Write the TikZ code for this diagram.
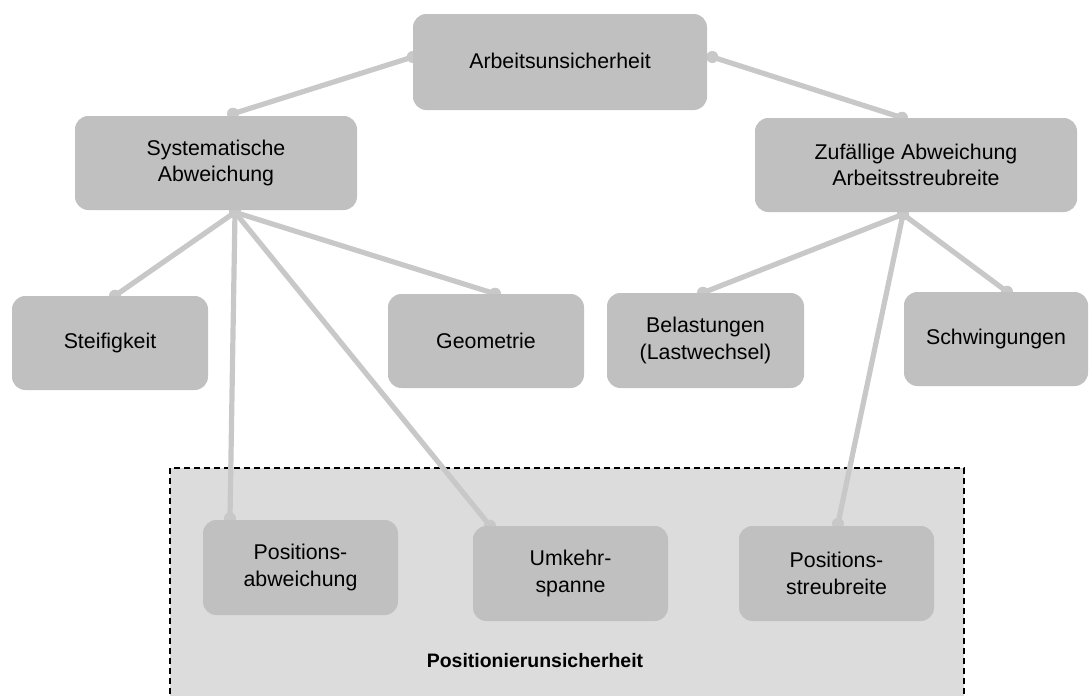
\documentclass[tikz,border=0pt]{standalone}
\usepackage{fontspec}
\setmainfont{Liberation Sans}
\definecolor{boxgray}{HTML}{C0C0C0}
\definecolor{linkgray}{HTML}{C8C8C8}
\definecolor{zonegray}{HTML}{DCDCDC}
\pgfdeclarelayer{zone}
\pgfdeclarelayer{links}
\pgfsetlayers{zone,links,main}

% connector with round dots at both ends, drawn below the boxes
\newcommand\linknodes[2]{%
  \begin{pgfonlayer}{links}
    \draw[link] (#1) -- (#2);
    \fill[linkgray] (#1) circle[radius=4.5pt] (#2) circle[radius=4.5pt];
  \end{pgfonlayer}}

\begin{document}
\begin{tikzpicture}[x=0.75pt,y=-0.75pt,
  cell/.style={fill=boxgray, rounded corners=10pt, align=center, inner sep=0pt,
    font=\fontsize{16pt}{20pt}\selectfont},
  link/.style={draw=linkgray, line width=3.9pt},
  zonebox/.style={fill=zonegray, draw=black, line width=1.1pt,
    dash pattern=on 4.5pt off 3pt, inner sep=0pt},
]
\useasboundingbox (0,0) rectangle (1089,696);

% positioning zone (its lower edge lies below the page)
\begin{pgfonlayer}{zone}
  \node[zonebox, minimum width=595.5pt, minimum height=174pt] (zone) at (567,584) {};
\end{pgfonlayer}
\node[font=\fontsize{14.6pt}{18pt}\selectfont\bfseries] (zonelabel) at (535,661) {Positionierunsicherheit};

% boxes
\node[cell, minimum width=220.5pt, minimum height=72pt] (A) at (560,62) {\raisebox{2pt}{Arbeitsunsicherheit}};
\node[cell, minimum width=211.5pt, minimum height=70.5pt] (S) at (216,163) {Systematische\\Abweichung};
\node[cell, minimum width=241.5pt, minimum height=70.5pt] (Z) at (916,165) {Zufällige Abweichung\\Arbeitsstreubreite};
\node[cell, minimum width=147pt, minimum height=70.5pt] (St) at (110,343) {Steifigkeit};
\node[cell, minimum width=147pt, minimum height=70.5pt] (G) at (486,341) {Geometrie};
\node[cell, minimum width=147.75pt, minimum height=71.25pt] (B) at (705.5,340.5) {Belastungen\\(Lastwechsel)};
\node[cell, minimum width=138pt, minimum height=70.5pt] (Sch) at (996,339) {Schwingungen};
\node[cell, minimum width=146.25pt, minimum height=71.25pt] (PA) at (300.5,567.5) {Positions-\\abweichung};
\node[cell, minimum width=146.25pt, minimum height=71.25pt] (U) at (570.5,573.5) {Umkehr-\\spanne};
\node[cell, minimum width=146.25pt, minimum height=71.25pt] (PS) at (836.5,573.5) {Positions-\\streubreite};

% connectors
\linknodes{[yshift=3.75pt]A.west}{[xshift=12.75pt,yshift=1.5pt]S.north}
\linknodes{[xshift=3.75pt,yshift=3.75pt]A.east}{[xshift=-10.5pt]Z.north}
\linknodes{[xshift=14.25pt,yshift=-1.5pt]S.south}{[xshift=3.75pt]St.north}
\linknodes{[xshift=14.25pt,yshift=-1.5pt]S.south}{[xshift=6.75pt]G.north}
\linknodes{[xshift=14.25pt,yshift=-1.5pt]S.south}{[xshift=-52.9pt,yshift=1pt]PA.north}
\linknodes{[xshift=14.25pt,yshift=-1.5pt]S.south}{[xshift=-60.4pt]U.north}
\linknodes{[xshift=-9.75pt,yshift=-1.5pt]Z.south}{[xshift=-1.9pt]B.north}
\linknodes{[xshift=-9.75pt,yshift=-1.5pt]Z.south}{[xshift=8.25pt]Sch.north}
\linknodes{[xshift=-9.75pt,yshift=-1.5pt]Z.south}{[xshift=1.1pt,yshift=1.5pt]PS.north}
\end{tikzpicture}
\end{document}
